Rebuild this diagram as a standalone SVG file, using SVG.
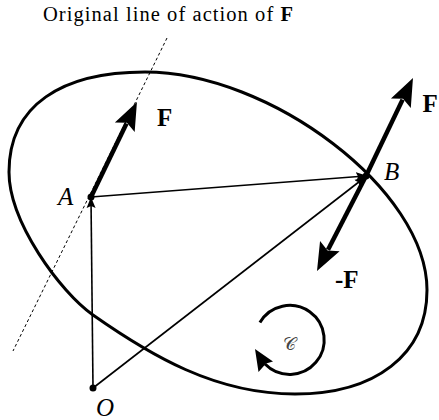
<svg xmlns="http://www.w3.org/2000/svg" width="439" height="420" viewBox="0 0 439 420">
<style>
  .serif { font-family: "Liberation Serif", "DejaVu Serif", serif; fill: #000; }
  .ital { font-style: italic; font-size: 25px; }
  .bold { font-weight: bold; font-size: 25px; }
  .body { fill: none; stroke: #000; stroke-width: 3; }
  .thin { fill: none; stroke: #000; stroke-width: 1.6; }
  .thick { fill: none; stroke: #000; stroke-width: 4.5; }
  .dash { fill: none; stroke: #000; stroke-width: 1; stroke-dasharray: 3 2.5; }
  .dot { fill: #000; }
</style>
<defs>
  <marker id="big" viewBox="0 -12 30 24" refX="4" refY="0" markerWidth="30" markerHeight="24" markerUnits="userSpaceOnUse" orient="auto">
    <path d="M0,-11 L28,0 L0,11 L5,0 Z" fill="#000"/>
  </marker>
  <marker id="small" viewBox="0 -5 12 10" refX="9" refY="0" markerWidth="12" markerHeight="10" markerUnits="userSpaceOnUse" orient="auto">
    <path d="M0,-4.5 L11,0 L0,4.5 L2,0 Z" fill="#000"/>
  </marker>
</defs>

<g id="title">
  <text class="serif" x="43" y="21" font-size="20.5" textLength="250" lengthAdjust="spacing">Original line of action of <tspan font-weight="bold">F</tspan></text>
</g>

<g id="line-of-action">
  <line class="dash" x1="167" y1="38" x2="13" y2="351"/>
</g>

<g id="body">
  <path class="body" d="M 9,172 C 9,105 62,72 145,72 C 270,72 427,190 427,290 C 427,355 375,394 295,394 C 215,394 150,355 93,315 C 60.3,292 9,222 9,172 Z"/>
</g>

<g id="connectors">
  <line class="thin" x1="93" y1="388" x2="91" y2="199" marker-end="url(#small)"/>
  <line class="thin" x1="91" y1="197" x2="365" y2="176" marker-end="url(#small)"/>
  <line class="thin" x1="93" y1="388" x2="364" y2="178" marker-end="url(#small)"/>
</g>

<g id="forces">
  <line class="thick" x1="91" y1="197" x2="126.5" y2="123.6" marker-end="url(#big)"/>
  <line class="thick" x1="366" y1="176" x2="402.6" y2="99.6" marker-end="url(#big)"/>
  <line class="thick" x1="366" y1="176" x2="328" y2="249.7" marker-end="url(#big)"/>
  <text class="serif bold" x="157" y="126">F</text>
  <text class="serif bold" x="422.5" y="112">F</text>
  <text class="serif bold" x="335" y="288">-F</text>
</g>

<g id="node-A">
  <circle class="dot" cx="91" cy="197" r="3.5"/>
  <text class="serif ital" x="58" y="205">A</text>
</g>
<g id="node-B">
  <circle class="dot" cx="366" cy="176" r="3.5"/>
  <text class="serif ital" x="384" y="180">B</text>
</g>
<g id="node-O">
  <circle class="dot" cx="93" cy="388" r="3.5"/>
  <text class="serif ital" x="96" y="416">O</text>
</g>

<g id="circulation">
  <path class="thin" style="stroke-width:3" d="M 259.9,322.5 A 34.5 34.5 0 1 1 265,364"/>
  <polygon points="255,349 273,361.5 266,363.5 258.5,372" fill="#000"/>
  <text x="289" y="350" font-family="DejaVu Serif, DejaVu Sans, serif" font-size="18" fill="#444" text-anchor="middle">𝒞</text>
</g>
</svg>
